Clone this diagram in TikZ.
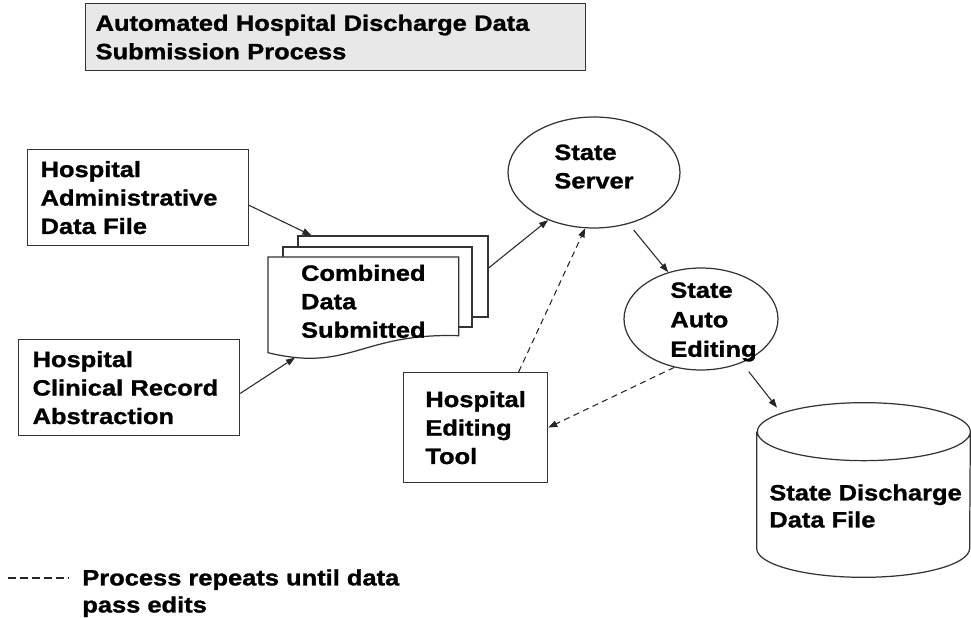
\documentclass[tikz,border=0pt]{standalone}
\usepackage{fontspec}
\setmainfont{Liberation Sans}[FakeStretch=1.15, BoldFeatures={FakeBold=1.2}]
\usetikzlibrary{shapes.geometric, positioning, arrows.meta}

\begin{document}
\begin{tikzpicture}[x=0.02cm, y=-0.02cm, >={Triangle[length=0.18cm, width=0.13cm]},
    every node/.style={font=\bfseries\fontsize{12.6}{16.2}\selectfont},
    box/.style={draw=black!80, line width=0.7pt, align=left, anchor=north west, inner ysep=0pt},
    sheet/.style={draw=black!80, line width=0.7pt, fill=white, minimum width=3.8cm, minimum height=1.6cm},
    oval/.style={ellipse, draw=black!80, line width=0.7pt, inner sep=0pt, align=left},
    drum/.style={inner sep=0pt, minimum width=4.26cm, minimum height=2.32cm},
    lbl/.style={anchor=north west, align=left, inner sep=0pt},
    line/.style={->, line width=0.6pt, black!85},
    dline/.style={line, dash pattern=on 3.5pt off 2.5pt}]

  \useasboundingbox (0,0) rectangle (971,618);

  % title
  \node[box, fill=black!9, minimum width=10cm, minimum height=1.34cm, text width=9.6cm,
    inner xsep=0.2cm] (title) at (85,3)
    {\makebox[9.16cm][s]{Automated Hospital Discharge Data}\\Submission Process};

  % sources
  \node[box, minimum width=4.42cm, minimum height=1.92cm, text width=3.9cm, inner xsep=0.26cm]
    (admin) at (27,149) {Hospital\\Administrative\\Data File};
  \node[box, minimum width=4.42cm, minimum height=1.92cm, text width=3.86cm, inner xsep=0.28cm]
    (clinical) at (18,339) {Hospital\\Clinical Record\\Abstraction};

  % stacked submission
  \node[sheet, minimum height=1.62cm] (sheetc) at (393,276.5) {};
  \node[sheet, minimum width=3.78cm] (sheetb) at (377.5,287) {};
  \node[anchor=north west, inner sep=0pt, minimum width=3.8cm, minimum height=1.9cm] (front) at (268,257) {};
  \draw[draw=black!80, line width=0.7pt, fill=white] (front.north west) -- (front.north east)
    -- ([yshift=0.34cm]front.south east) .. controls +(-98,-3) and +(82,20) .. (front.south west) -- cycle;
  \node[align=left, inner sep=0pt] (combined) at ([yshift=0.07cm]front.center) {Combined\\Data\\Submitted};

  % state side
  \node[oval, minimum width=3.44cm, minimum height=2.22cm, text depth=0.24cm] (server) at (594,172.5)
    {State\\Server};
  \node[oval, minimum width=3.08cm, minimum height=2.04cm] (auto) at (701,319) {};
  \node[lbl, font=\bfseries\fontsize{12.6}{16.8}\selectfont] (autotxt) at (670,282) {State\\Auto\\Editing};
  \node[box, minimum width=2.88cm, minimum height=2.2cm] (edittool) at (403,372) {Hospital\\Editing\\Tool};

  % discharge file drum
  \node[drum] (store) at (863.5,490) {};
  \draw[draw=black!80, line width=0.7pt] (store.north west) -- (store.south west)
    arc[start angle=180, end angle=360, x radius=2.13cm, y radius=0.58cm] -- (store.north east)
    arc[start angle=0, end angle=360, x radius=2.13cm, y radius=0.58cm];
  \node[lbl, font=\bfseries\fontsize{12.6}{15.4}\selectfont] (storetxt) at (769,484)
    {State Discharge\\Data File};

  % legend
  \coordinate (dashA) at (8,578);
  \coordinate (dashB) at (68,578);
  \draw[line width=0.6pt, black!85, dash pattern=on 4.5pt off 2.3pt] (dashA) -- (dashB);
  \node[lbl, font=\bfseries\fontsize{12.6}{15.4}\selectfont] (legend) at (82,569)
    {Process repeats until data\\pass edits};

  \draw[line] (admin.-4) -- ([xshift=0.28cm]sheetc.north west);
  \draw[line] (clinical.-3) -- ([xshift=0.54cm, yshift=-0.1cm]front.south west);
  \draw[line] ([yshift=0.17cm]sheetc.east) -- (server.226);
  \draw[dline] ([xshift=0.86cm]edittool.north) -- (server.261);
  \draw[line, shorten <=0.16cm] (server.-56) -- (auto.125);
  \draw[dline] (auto.241) -- (edittool.east);
  \draw[line, shorten <=0.22cm] (auto.-47) -- ([xshift=-1.73cm, yshift=0.48cm]store.north);

\end{tikzpicture}
\end{document}
